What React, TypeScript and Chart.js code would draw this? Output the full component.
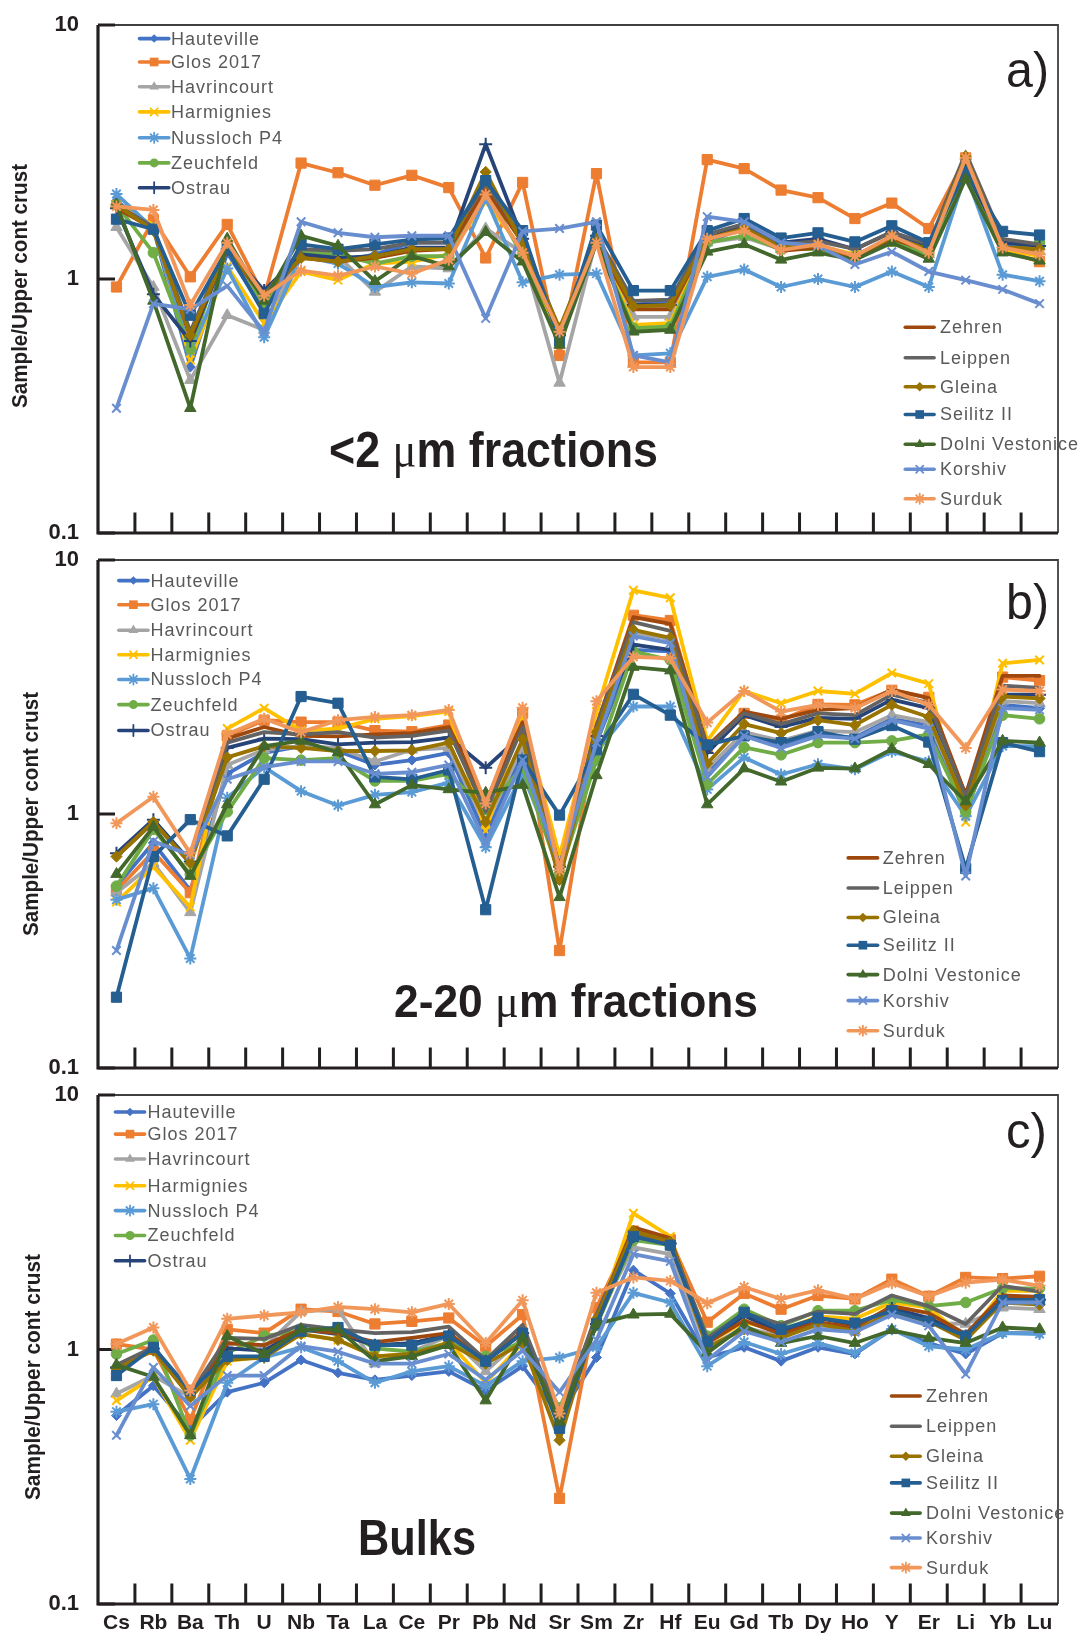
import React, { useEffect, useRef } from "react";
import { Chart, registerables } from "chart.js";

Chart.register(...registerables);

// ---------------- data ----------------
const CATEGORIES = ["Cs","Rb","Ba","Th","U","Nb","Ta","La","Ce","Pr","Pb","Nd","Sr","Sm","Zr","Hf","Eu","Gd","Tb","Dy","Ho","Y","Er","Li","Yb","Lu"];
const Y_TICKS = [0.1, 1, 10];
const SERIES_NAMES = ["Hauteville","Glos 2017","Havrincourt","Harmignies","Nussloch P4","Zeuchfeld","Ostrau","Zehren","Leippen","Gleina","Seilitz II","Dolni Vestonice","Korshiv","Surduk"];
const SERIES_COLORS = ["#4472C4","#ED7D31","#A5A5A5","#FFC000","#5B9BD5","#70AD47","#264478","#9E480E","#636363","#997300","#255E91","#43682B","#698ED0","#F1975A"];
const SERIES_MARKERS = ["rectRot","rect","triangle","crossRot","star","circle","cross","none","none","rectRot","rect","triangle","crossRot","star"];
const MARKER_RADII = [5,7.2,6.6,6,6,5.3,6.5,0,0,5.6,7.2,6.6,6,6];

// panel a) <2 um fractions
const hautevilleA = [2.03,1.58,0.45,1.27,0.75,1.23,1.17,1.25,1.39,1.39,2.44,1.39,0.60,1.44,0.79,0.82,1.39,1.60,1.35,1.37,1.19,1.48,1.33,2.95,1.37,1.33];
const glosA = [0.93,1.71,1.02,1.64,0.85,2.86,2.62,2.34,2.56,2.29,1.21,2.40,0.50,2.60,0.47,0.47,2.95,2.72,2.24,2.09,1.73,1.99,1.58,3.00,1.30,1.17];
const havrincourtA = [1.60,0.93,0.40,0.72,0.63,1.31,1.23,0.89,1.12,1.10,1.58,1.27,0.39,1.44,0.71,0.71,1.39,1.46,1.31,1.33,1.21,1.39,1.25,3.04,1.33,1.29];
const harmigniesA = [1.96,1.63,0.48,1.12,0.67,1.07,0.99,1.15,1.17,1.25,2.02,1.31,0.56,1.44,0.66,0.67,1.44,1.60,1.33,1.35,1.25,1.39,1.27,2.86,1.31,1.23];
const nusslochA = [2.16,1.58,0.52,1.10,0.59,1.23,1.15,0.93,0.97,0.96,2.09,0.97,1.04,1.05,0.50,0.51,1.02,1.09,0.93,1.00,0.93,1.07,0.93,2.60,1.04,0.98];
const zeuchfeldA = [1.96,1.27,0.53,1.39,0.79,1.27,1.25,1.15,1.23,1.23,2.26,1.23,0.62,1.39,0.64,0.65,1.39,1.48,1.31,1.31,1.23,1.41,1.25,2.69,1.31,1.39];
const ostrauA = [1.90,0.87,0.57,1.31,0.90,1.25,1.21,1.23,1.33,1.33,3.39,1.44,0.60,1.48,0.79,0.79,1.44,1.63,1.39,1.44,1.31,1.53,1.35,2.69,1.39,1.35];
const zehrenA = [1.90,1.58,0.59,1.31,0.84,1.21,1.17,1.21,1.29,1.31,2.26,1.39,0.62,1.39,0.76,0.76,1.44,1.58,1.29,1.33,1.21,1.44,1.29,3.04,1.33,1.31];
const leippenA = [1.96,1.60,0.62,1.35,0.87,1.31,1.29,1.31,1.39,1.39,2.40,1.44,0.63,1.48,0.82,0.83,1.50,1.65,1.37,1.41,1.31,1.53,1.37,3.14,1.44,1.37];
const gleinaA = [1.96,1.55,0.60,1.31,0.86,1.21,1.17,1.23,1.31,1.31,2.64,1.37,0.64,1.44,0.78,0.79,1.44,1.58,1.33,1.35,1.23,1.46,1.31,3.04,1.33,1.31];
const seilitzA = [1.72,1.57,0.72,1.31,0.73,1.37,1.31,1.37,1.43,1.45,2.44,1.55,0.57,1.63,0.90,0.90,1.55,1.73,1.45,1.52,1.40,1.62,1.39,2.64,1.54,1.49];
const dolniA = [1.96,0.82,0.31,1.44,0.82,1.48,1.35,0.98,1.23,1.12,1.53,1.17,0.55,1.39,0.62,0.63,1.28,1.37,1.19,1.27,1.19,1.39,1.20,2.48,1.27,1.18];
const korshivA = [0.31,0.80,0.76,0.94,0.62,1.68,1.52,1.46,1.48,1.48,0.70,1.54,1.58,1.68,0.50,0.47,1.76,1.68,1.39,1.35,1.14,1.28,1.07,0.99,0.91,0.80];
const surdukA = [1.93,1.87,0.79,1.39,0.86,1.08,1.03,1.12,1.05,1.19,2.15,1.27,0.62,1.39,0.45,0.45,1.44,1.55,1.30,1.37,1.23,1.48,1.27,3.00,1.33,1.25];

// panel b) 2-20 um fractions
const hautevilleB = [0.52,0.77,0.50,1.44,1.74,1.85,1.77,1.56,1.63,1.74,0.82,1.74,0.60,1.91,4.43,4.37,1.44,2.03,1.88,2.06,2.00,2.37,2.23,0.99,2.69,2.61];
const glosB = [0.50,0.71,0.49,2.03,2.34,2.30,2.30,2.13,2.11,2.24,1.09,2.49,0.29,2.20,6.06,5.78,1.82,2.49,2.34,2.70,2.69,3.07,2.88,1.15,3.46,3.35];
const havrincourtB = [0.49,0.64,0.41,1.56,1.79,1.85,1.82,1.61,1.79,1.82,0.90,1.85,0.57,2.00,5.18,4.87,1.51,2.10,1.94,2.13,2.10,2.45,2.30,1.10,2.78,2.73];
const harmigniesB = [0.45,0.62,0.43,2.17,2.61,2.13,2.17,2.37,2.43,2.53,0.86,2.45,0.68,2.53,7.60,7.10,1.94,3.05,2.73,3.05,2.97,3.59,3.26,0.93,3.92,4.04];
const nusslochB = [0.46,0.51,0.27,1.16,1.53,1.23,1.08,1.19,1.22,1.33,0.74,1.44,0.63,1.76,2.65,2.65,1.25,1.67,1.43,1.57,1.50,1.76,1.61,0.98,1.85,1.85];
const zeuchfeldB = [0.52,0.87,0.58,1.02,1.66,1.63,1.66,1.35,1.35,1.44,1.04,1.53,0.58,1.63,4.37,4.04,1.31,1.83,1.71,1.91,1.91,1.94,2.06,1.02,2.45,2.37];
const ostrauB = [0.70,0.95,0.65,1.82,1.98,1.97,1.88,1.91,1.92,2.00,1.52,2.06,0.62,2.03,4.64,4.43,1.74,2.45,2.20,2.39,2.37,2.82,2.61,1.19,2.95,2.95];
const zehrenB = [0.68,0.93,0.64,1.98,2.20,2.03,2.02,2.06,2.08,2.20,1.12,2.30,0.56,2.23,5.96,5.60,1.85,2.53,2.37,2.57,2.61,3.09,2.86,1.19,3.50,3.50];
const leippenB = [0.68,0.93,0.64,1.91,2.10,2.06,2.10,2.00,2.03,2.13,1.02,2.20,0.58,2.20,5.69,5.26,1.82,2.49,2.26,2.49,2.45,2.95,2.73,1.16,3.20,3.14];
const gleinaB = [0.68,0.93,0.64,1.67,1.85,1.82,1.77,1.77,1.78,1.91,0.93,1.97,0.55,2.10,5.31,4.94,1.58,2.26,2.08,2.34,2.24,2.69,2.41,1.08,2.90,2.85];
const seilitzB = [0.19,0.68,0.95,0.82,1.37,2.90,2.73,1.40,1.37,1.49,0.42,1.63,0.99,1.79,2.96,2.45,1.87,2.03,1.91,2.11,1.97,2.23,1.92,0.61,1.91,1.76];
const dolniB = [0.58,0.89,0.57,1.09,1.85,1.94,1.75,1.09,1.30,1.25,1.21,1.30,0.47,1.42,3.79,3.67,1.09,1.51,1.34,1.52,1.51,1.80,1.57,1.12,1.94,1.91];
const korshivB = [0.29,0.78,0.69,1.37,1.53,1.61,1.61,1.44,1.46,1.56,0.77,1.63,0.62,1.91,5.02,4.71,1.40,2.03,1.82,2.03,1.98,2.34,2.17,0.57,2.61,2.57];
const surdukB = [0.92,1.17,0.70,2.06,2.37,2.10,2.34,2.41,2.45,2.57,1.10,2.62,0.60,2.78,4.16,4.10,2.29,3.05,2.53,2.69,2.61,3.05,2.69,1.82,3.09,3.05];

// panel c) bulks
const hautevilleC = [0.55,0.72,0.49,0.68,0.74,0.91,0.81,0.76,0.79,0.82,0.69,0.86,0.55,0.93,2.05,1.66,0.93,1.02,0.90,1.02,0.96,1.20,1.06,0.96,1.16,1.16];
const glosC = [1.05,1.00,0.53,1.20,1.16,1.44,1.41,1.26,1.29,1.33,1.03,1.37,0.26,1.46,2.92,2.70,1.28,1.66,1.44,1.63,1.58,1.89,1.62,1.92,1.90,1.94];
const havrincourtC = [0.67,0.79,0.65,1.06,1.02,1.41,1.44,0.88,0.98,1.13,0.82,1.11,0.57,1.32,2.52,2.37,1.02,1.22,1.13,1.24,1.18,1.40,1.27,1.26,1.46,1.44];
const harmigniesC = [0.63,0.78,0.44,0.90,0.94,1.15,1.09,0.94,0.96,1.07,0.74,1.06,0.57,1.28,3.43,2.78,1.06,1.28,1.18,1.35,1.32,1.53,1.46,1.11,1.70,1.70];
const nusslochC = [0.57,0.61,0.31,0.74,0.93,1.02,0.90,0.74,0.82,0.86,0.72,0.90,0.93,1.02,1.67,1.53,0.86,1.07,0.96,1.06,0.97,1.20,1.03,1.00,1.16,1.15];
const zeuchfeldC = [0.96,1.09,0.46,0.97,1.13,1.18,1.22,1.01,0.98,1.06,0.94,1.07,0.59,1.24,2.69,2.57,1.13,1.44,1.24,1.42,1.42,1.57,1.48,1.53,1.74,1.74];
const ostrauC = [0.85,1.01,0.68,1.01,0.99,1.20,1.15,1.04,1.06,1.14,0.90,1.16,0.52,1.26,2.78,2.61,1.06,1.36,1.16,1.33,1.25,1.45,1.33,1.13,1.58,1.57];
const zehrenC = [0.86,1.01,0.66,1.06,1.04,1.20,1.16,1.07,1.11,1.16,0.90,1.18,0.53,1.35,3.02,2.74,1.06,1.30,1.15,1.28,1.22,1.48,1.39,1.15,1.63,1.61];
const leippenC = [0.87,1.02,0.67,1.11,1.10,1.25,1.20,1.16,1.17,1.23,0.91,1.25,0.54,1.37,2.87,2.65,1.11,1.39,1.26,1.41,1.38,1.63,1.48,1.26,1.78,1.69];
const gleinaC = [0.84,0.99,0.65,0.91,0.93,1.15,1.09,0.94,0.96,1.06,0.88,1.06,0.44,1.32,2.92,2.65,1.02,1.20,1.11,1.26,1.18,1.41,1.29,1.09,1.53,1.50];
const seilitzC = [0.79,1.02,0.69,0.94,0.94,1.18,1.22,1.04,1.04,1.13,0.90,1.16,0.49,1.26,2.78,2.57,1.07,1.40,1.20,1.33,1.27,1.42,1.29,1.13,1.56,1.57];
const dolniC = [0.87,0.78,0.46,1.13,0.96,1.20,1.20,0.90,0.94,1.04,0.63,1.11,0.52,1.26,1.37,1.38,0.97,1.24,1.06,1.13,1.06,1.19,1.11,1.06,1.22,1.20];
const korshivC = [0.46,0.85,0.60,0.79,0.79,1.03,0.98,0.88,0.88,0.96,0.76,0.99,0.68,1.09,2.37,2.22,0.91,1.18,1.07,1.20,1.17,1.37,1.24,0.80,1.53,1.53];
const surdukC = [1.05,1.22,0.69,1.32,1.36,1.40,1.47,1.44,1.40,1.51,1.06,1.56,0.56,1.67,1.92,1.86,1.52,1.76,1.58,1.71,1.58,1.82,1.62,1.83,1.88,1.78];

const PANEL_A_VALUES = [hautevilleA, glosA, havrincourtA, harmigniesA, nusslochA, zeuchfeldA, ostrauA, zehrenA, leippenA, gleinaA, seilitzA, dolniA, korshivA, surdukA];
const PANEL_B_VALUES = [hautevilleB, glosB, havrincourtB, harmigniesB, nusslochB, zeuchfeldB, ostrauB, zehrenB, leippenB, gleinaB, seilitzB, dolniB, korshivB, surdukB];
const PANEL_C_VALUES = [hautevilleC, glosC, havrincourtC, harmigniesC, nusslochC, zeuchfeldC, ostrauC, zehrenC, leippenC, gleinaC, seilitzC, dolniC, korshivC, surdukC];

// ---------------- styling / layout ----------------
const FONT = '"Liberation Sans", Arial, Helvetica, sans-serif';
const SERIF = '"Liberation Serif", "DejaVu Serif", serif';
const INK = "#231f20";

type Legend = { x0: number; x1: number; tx: number; rows: number[] };
type Part = { t: string; f: string };
type Decor = {
  offsetY: number;
  tag: string; tagX: number; tagBase: number; tagW: number;
  big: Part[]; bigX: number; bigBase: number; bigW: number;
  titleX: number; titleY: number; titleLen: number;
  left: Legend; right: Legend;
};

const mu = (size: number, lead: string, tail: string): Part[] => [
  { t: lead, f: `bold ${size}px ${FONT}` },
  { t: "\u03bc", f: `${size}px ${SERIF}` },
  { t: tail, f: `bold ${size}px ${FONT}` },
];

const DECOR_A: Decor = {
  offsetY: 0,
  tag: "a)", tagX: 1006, tagBase: 87, tagW: 43,
  big: mu(50, "<2 ", "m fractions"), bigX: 329, bigBase: 466.7, bigW: 329,
  titleX: 20.7, titleY: 286, titleLen: 244,
  left: { x0: 139.5, x1: 168.8, tx: 171, rows: [38.6, 62, 86.8, 111.9, 137.8, 162.9, 187.7] },
  right: { x0: 905.3, x1: 934.1, tx: 940, rows: [327.3, 357.7, 386.8, 414.5, 444.3, 469.2, 498.7] },
};
const DECOR_B: Decor = {
  offsetY: 540,
  tag: "b)", tagX: 1006, tagBase: 619, tagW: 43,
  big: mu(47, "2-20 ", "m fractions"), bigX: 394, bigBase: 1017, bigW: 364,
  titleX: 31.7, titleY: 814, titleLen: 244,
  left: { x0: 118.8, x1: 148, tx: 150.5, rows: [580.6, 604.7, 630.2, 654.7, 679.5, 704.6, 730.5] },
  right: { x0: 848.2, x1: 877.6, tx: 882.8, rows: [857.9, 888, 917.5, 945.2, 974.6, 1000.6, 1030.7] },
};
const DECOR_C: Decor = {
  offsetY: 1080,
  tag: "c)", tagX: 1006, tagBase: 1147.5, tagW: 41,
  big: [{ t: "Bulks", f: `bold 50px ${FONT}` }], bigX: 358, bigBase: 1555, bigW: 118,
  titleX: 34.4, titleY: 1377, titleLen: 246,
  left: { x0: 115.4, x1: 144.6, tx: 147.4, rows: [1112, 1134.1, 1159, 1185.7, 1210.6, 1235.5, 1260.8] },
  right: { x0: 891.5, x1: 920.2, tx: 926.1, rows: [1396, 1426.3, 1456.2, 1482.9, 1513.1, 1538, 1567.6] },
};

function drawParts(ctx: CanvasRenderingContext2D, parts: Part[], x: number, y: number, targetW: number) {
  let total = 0;
  const ws = parts.map((p) => {
    ctx.font = p.f;
    const w = ctx.measureText(p.t).width;
    total += w;
    return w;
  });
  const s = targetW / total;
  ctx.save();
  ctx.translate(x, y);
  ctx.scale(s, 1);
  let cx = 0;
  parts.forEach((p, i) => {
    ctx.font = p.f;
    ctx.fillText(p.t, cx, 0);
    cx += ws[i];
  });
  ctx.restore();
}

function drawMarker(ctx: CanvasRenderingContext2D, style: string, x: number, y: number, r: number, color: string) {
  ctx.save();
  ctx.fillStyle = color;
  ctx.strokeStyle = color;
  ctx.lineWidth = 1.8;
  ctx.beginPath();
  const d = r * Math.SQRT1_2;
  switch (style) {
    case "circle":
      ctx.arc(x, y, r, 0, Math.PI * 2);
      ctx.fill();
      break;
    case "rect":
      ctx.rect(x - d, y - d, 2 * d, 2 * d);
      ctx.fill();
      break;
    case "rectRot":
      ctx.moveTo(x, y - r); ctx.lineTo(x + r, y); ctx.lineTo(x, y + r); ctx.lineTo(x - r, y); ctx.closePath();
      ctx.fill();
      break;
    case "triangle":
      ctx.moveTo(x, y - r);
      ctx.lineTo(x + r * Math.sin((2 * Math.PI) / 3), y - r * Math.cos((2 * Math.PI) / 3));
      ctx.lineTo(x + r * Math.sin((4 * Math.PI) / 3), y - r * Math.cos((4 * Math.PI) / 3));
      ctx.closePath();
      ctx.fill();
      break;
    case "cross":
      ctx.moveTo(x - r, y); ctx.lineTo(x + r, y); ctx.moveTo(x, y - r); ctx.lineTo(x, y + r);
      ctx.stroke();
      break;
    case "crossRot":
      ctx.moveTo(x - d, y - d); ctx.lineTo(x + d, y + d); ctx.moveTo(x - d, y + d); ctx.lineTo(x + d, y - d);
      ctx.stroke();
      break;
    case "star":
      ctx.moveTo(x - r, y); ctx.lineTo(x + r, y); ctx.moveTo(x, y - r); ctx.lineTo(x, y + r);
      ctx.moveTo(x - d, y - d); ctx.lineTo(x + d, y + d); ctx.moveTo(x - d, y + d); ctx.lineTo(x + d, y - d);
      ctx.stroke();
      break;
  }
  ctx.restore();
}

function makeDecor(d: Decor) {
  return {
    id: "decor" + d.tag.replace(")", ""),
    beforeDatasetsDraw(chart: any) {
      const ctx: CanvasRenderingContext2D = chart.ctx;
      const a = chart.chartArea;
      const xs = chart.scales.x;
      const ys = chart.scales.y;
      ctx.save();
      ctx.lineCap = "butt";
      ctx.strokeStyle = "#404040";
      ctx.lineWidth = 1.8;
      ctx.beginPath();
      ctx.moveTo(a.left, a.top); ctx.lineTo(a.right, a.top); ctx.lineTo(a.right, a.bottom);
      ctx.stroke();
      ctx.strokeStyle = INK;
      ctx.lineWidth = 3.2;
      ctx.beginPath();
      ctx.moveTo(a.left, a.top); ctx.lineTo(a.left, a.bottom); ctx.lineTo(a.right, a.bottom);
      ctx.stroke();
      ctx.lineWidth = 3;
      ctx.beginPath();
      for (let i = 1; i < CATEGORIES.length; i++) {
        const x = (xs.getPixelForValue(i - 1) + xs.getPixelForValue(i)) / 2;
        ctx.moveTo(x, a.bottom);
        ctx.lineTo(x, a.bottom - 20.5);
      }
      Y_TICKS.forEach((v) => {
        const y = ys.getPixelForValue(v);
        ctx.moveTo(a.left, y);
        ctx.lineTo(a.left + 17, y);
      });
      ctx.stroke();
      ctx.restore();
    },
    afterDatasetsDraw(chart: any) {
      const ctx: CanvasRenderingContext2D = chart.ctx;
      const oy = d.offsetY;
      ctx.save();
      const drawLegend = (lg: Legend, start: number) => {
        for (let k = 0; k < 7; k++) {
          const i = start + k;
          const y = lg.rows[k] - oy;
          const c = SERIES_COLORS[i];
          ctx.strokeStyle = c;
          ctx.lineWidth = 3.6;
          ctx.lineCap = "round";
          ctx.beginPath();
          ctx.moveTo(lg.x0, y);
          ctx.lineTo(lg.x1, y);
          ctx.stroke();
          if (SERIES_MARKERS[i] !== "none") {
            drawMarker(ctx, SERIES_MARKERS[i], (lg.x0 + lg.x1) / 2, y, Math.max(4, MARKER_RADII[i] * 0.85), c);
          }
          ctx.fillStyle = "#595959";
          ctx.font = `18px ${FONT}`;
          (ctx as any).letterSpacing = "1px";
          ctx.textAlign = "left";
          ctx.textBaseline = "middle";
          ctx.fillText(SERIES_NAMES[i], lg.tx, y + 1);
          (ctx as any).letterSpacing = "0px";
        }
      };
      drawLegend(d.left, 0);
      drawLegend(d.right, 7);

      ctx.fillStyle = INK;
      ctx.textAlign = "left";
      ctx.textBaseline = "alphabetic";
      drawParts(ctx, [{ t: d.tag, f: `50px ${FONT}` }], d.tagX, d.tagBase - oy, d.tagW);
      drawParts(ctx, d.big, d.bigX, d.bigBase - oy, d.bigW);
      ctx.save();
      ctx.translate(d.titleX, d.titleY - oy);
      ctx.rotate(-Math.PI / 2);
      ctx.textBaseline = "middle";
      drawParts(ctx, [{ t: "Sample/Upper cont crust", f: `bold 22px ${FONT}` }], -d.titleLen / 2, 0, d.titleLen);
      ctx.restore();
      ctx.restore();
    },
  };
}

type PanelProps = { values: number[][]; top: number; height: number; decor: Decor; showX: boolean; padTop: number; padBottom: number };

function Panel({ values, top, height, decor, showX, padTop, padBottom }: PanelProps) {
  const ref = useRef<HTMLCanvasElement>(null);
  useEffect(() => {
    if (!ref.current) return;
    const datasets = SERIES_NAMES.map((name, i) => {
      const marker = SERIES_MARKERS[i];
      const isLineMarker = marker === "cross" || marker === "crossRot" || marker === "star";
      return {
        label: name,
        data: values[i],
        borderColor: SERIES_COLORS[i],
        backgroundColor: SERIES_COLORS[i],
        borderWidth: 3.8,
        borderJoinStyle: "round",
        borderCapStyle: "round",
        tension: 0,
        pointStyle: marker === "none" ? "circle" : marker,
        pointRadius: marker === "none" ? 0 : MARKER_RADII[i],
        pointBackgroundColor: SERIES_COLORS[i],
        pointBorderColor: SERIES_COLORS[i],
        pointBorderWidth: isLineMarker ? 2 : 1,
        order: SERIES_NAMES.length - 1 - i,
      };
    });
    const chart = new Chart(ref.current, {
      type: "line",
      data: { labels: CATEGORIES, datasets: datasets as any },
      options: {
        animation: false,
        responsive: false,
        maintainAspectRatio: false,
        devicePixelRatio: 1,
        events: [],
        layout: { padding: { left: 0, right: 25, top: padTop, bottom: padBottom } },
        plugins: { legend: { display: false }, tooltip: { enabled: false } },
        scales: {
          x: {
            type: "category",
            offset: true,
            display: showX,
            grid: { display: false, drawTicks: false },
            border: { display: false },
            ticks: {
              autoSkip: false,
              maxRotation: 0,
              padding: 7,
              color: INK,
              font: { family: FONT, size: 21, weight: "bold" },
            },
            afterFit: (s: any) => { s.height = showX ? 34 : 0; },
          },
          y: {
            type: "logarithmic",
            min: 0.1,
            max: 10,
            grid: { display: true, drawOnChartArea: false, drawTicks: true, tickLength: 19, tickColor: "rgba(0,0,0,0)", color: "rgba(0,0,0,0)" },
            border: { display: false },
            afterBuildTicks: (s: any) => { s.ticks = Y_TICKS.map((v) => ({ value: v })); },
            ticks: {
              padding: 0,
              color: INK,
              font: { family: FONT, size: 22, weight: "bold" },
              callback: (v: any) => String(v),
            },
            afterFit: (s: any) => { s.width = 98; },
          },
        },
      } as any,
      plugins: [makeDecor(decor)],
    });
    return () => chart.destroy();
  }, []);
  return (
    <canvas
      ref={ref}
      width={1083}
      height={height}
      style={{ position: "absolute", left: 0, top, width: 1083, height, display: "block" }}
    />
  );
}

export default function App() {
  return (
    <div style={{ position: "absolute", left: 0, top: 0, width: 1083, height: 1638, background: "#ffffff" }}>
      <Panel values={PANEL_A_VALUES} top={0} height={550} decor={DECOR_A} showX={false} padTop={25} padBottom={17} />
      <Panel values={PANEL_B_VALUES} top={540} height={545} decor={DECOR_B} showX={false} padTop={20} padBottom={17} />
      <Panel values={PANEL_C_VALUES} top={1080} height={558} decor={DECOR_C} showX={true} padTop={15} padBottom={0} />
    </div>
  );
}
